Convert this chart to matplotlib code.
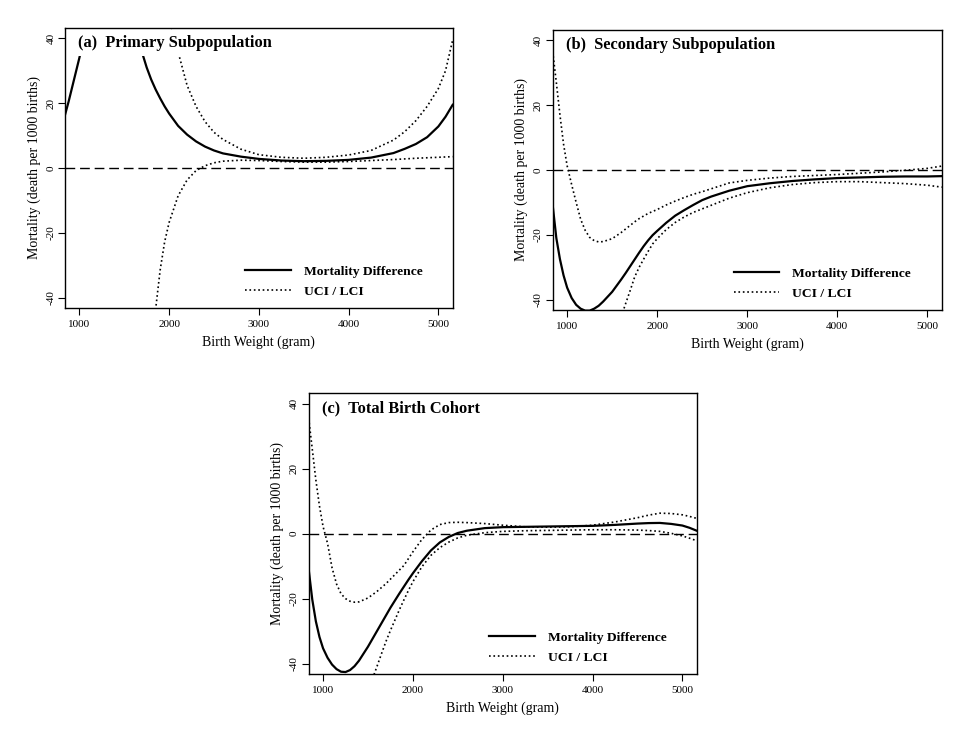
import numpy as np
import matplotlib
matplotlib.use("Agg")
import matplotlib.pyplot as plt
from matplotlib.lines import Line2D

plt.rcParams['font.family'] = ['Liberation Serif', 'DejaVu Serif']
plt.rcParams['axes.unicode_minus'] = False

nan = np.nan

weight = [840, 880, 920, 960, 1000, 1050, 1100, 1150, 1200, 1250,
          1300, 1350, 1400, 1500, 1600, 1650, 1700, 1750, 1800, 1850,
          1900, 1950, 2000, 2100, 2200, 2300, 2400, 2500, 2600, 2800,
          3000, 3250, 3500, 3750, 4000, 4250, 4500, 4625, 4750, 4875,
          5000, 5080, 5160]

# (a) primary subpopulation -- nan where the curve runs off the chart
a_diff = [16.4, 20.5, 25.0, 29.5, 34.0, 40.0, nan, nan, nan, nan,
          nan, nan, nan, nan, nan, 42.0, 35.5, 31.0, 27.3, 24.2,
          21.5, 19.0, 16.8, 13.0, 10.3, 8.2, 6.6, 5.4, 4.5, 3.5,
          2.8, 2.3, 2.1, 2.2, 2.5, 3.2, 4.6, 5.9, 7.4, 9.5,
          12.8, 15.8, 19.5]
a_uci = [nan, nan, nan, nan, nan, nan, nan, nan, nan, nan,
         nan, nan, nan, nan, nan, nan, nan, nan, nan, nan,
         nan, nan, 46.0, 35.8, 25.5, 19.0, 14.3, 11.0, 8.8, 5.8,
         4.1, 3.3, 3.0, 3.3, 4.0, 5.4, 8.6, 11.2, 14.6, 19.0,
         24.5, 30.0, 39.5]
a_lci = [nan, nan, nan, nan, nan, nan, nan, nan, nan, nan,
         nan, nan, nan, nan, nan, nan, nan, nan, -56.0, -43.5,
         -31.5, -22.8, -16.8, -8.6, -3.7, -0.8, 0.7, 1.6, 2.1, 2.4,
         2.3, 2.0, 1.8, 1.8, 2.0, 2.3, 2.6, 2.8, 3.0, 3.15,
         3.3, 3.4, 3.5]

# (b) secondary subpopulation
b_diff = [-11.0, -21.0, -27.5, -32.5, -36.3, -39.5, -41.6, -42.8, -43.4, -43.4,
          -42.8, -41.9, -40.6, -37.6, -33.8, -31.8, -29.7, -27.6, -25.5, -23.5,
          -21.7, -20.1, -18.8, -16.3, -14.1, -12.4, -10.8, -9.3, -8.2, -6.4,
          -5.0, -4.1, -3.4, -2.9, -2.5, -2.3, -2.1, -2.05, -2.0, -2.0,
          -2.0, -1.95, -1.9]
b_uci = [36.5, 27.0, 17.0, 8.0, 1.3, -4.5, -10.0, -15.2, -18.6, -20.8,
         -21.8, -22.2, -22.1, -21.2, -19.3, -18.2, -17.1, -16.0, -15.0, -14.2,
         -13.4, -12.8, -12.2, -10.8, -9.6, -8.5, -7.5, -6.7, -5.8, -4.0,
         -3.2, -2.5, -2.0, -1.7, -1.4, -1.0, -0.6, -0.35, -0.1, 0.2,
         0.5, 0.85, 1.2]
b_lci = [nan, nan, nan, nan, nan, nan, nan, nan, nan, nan,
         nan, nan, nan, nan, -45.3, -41.2, -37.2, -33.0, -30.0, -27.5,
         -25.1, -22.8, -21.2, -18.4, -16.2, -14.5, -13.1, -12.0, -10.9, -8.7,
         -7.0, -5.5, -4.5, -3.9, -3.6, -3.6, -3.9, -4.05, -4.2, -4.45,
         -4.7, -5.0, -5.3]

# (c) total birth cohort
c_diff = [-11.0, -20.3, -27.0, -31.8, -35.3, -38.2, -40.3, -41.7, -42.5, -42.6,
          -42.0, -40.8, -39.1, -34.8, -30.0, -27.6, -25.2, -22.8, -20.6, -18.4,
          -16.3, -14.2, -12.2, -8.5, -5.2, -2.7, -1.0, 0.2, 0.9, 1.7,
          2.0, 2.1, 2.2, 2.3, 2.4, 2.7, 3.1, 3.25, 3.3, 3.0,
          2.5, 1.8, 0.9]
c_uci = [35.5, 26.0, 16.5, 8.5, 2.2, -3.0, -10.5, -15.5, -18.5, -20.0,
         -20.8, -21.1, -21.0, -19.8, -17.8, -16.6, -15.4, -14.0, -12.6, -11.2,
         -9.8, -7.7, -5.6, -1.8, 1.1, 2.8, 3.4, 3.5, 3.4, 3.1,
         2.6, 2.1, 2.0, 2.1, 2.6, 3.6, 4.9, 5.7, 6.3, 6.2,
         5.8, 5.3, 4.7]
c_lci = [nan, nan, nan, nan, nan, nan, nan, nan, nan, nan,
         nan, nan, nan, -48.5, -40.9, -37.0, -33.2, -29.8, -26.6, -23.4,
         -20.4, -17.5, -14.8, -10.2, -6.7, -4.3, -2.6, -1.3, -0.5, 0.3,
         0.7, 0.9, 1.0, 1.1, 1.2, 1.2, 1.1, 0.95, 0.7, 0.1,
         -0.7, -1.4, -2.2]

titles = ["(a)  Primary Subpopulation", "(b)  Secondary Subpopulation", "(c)  Total Birth Cohort"]
legend_labels = ["Mortality Difference", "UCI / LCI"]
xticks = [1000, 2000, 3000, 4000, 5000]
yticks = [-40, -20, 0, 20, 40]

panels = [(a_diff, a_uci, a_lci), (b_diff, b_uci, b_lci), (c_diff, c_uci, c_lci)]
positions = [[0.0667, 0.5838, 0.3976, 0.3784],
             [0.5669, 0.5811, 0.3990, 0.3784],
             [0.3166, 0.0892, 0.3980, 0.3793]]

fig = plt.figure(figsize=(9.75, 7.4), dpi=100)

for (diff, uci, lci), pos, title in zip(panels, positions, titles):
    ax = fig.add_axes(pos)
    ax.axhline(0, color='black', lw=1.0, dashes=(7, 3.5), zorder=1)
    ax.plot(weight, diff, color='black', lw=1.6, zorder=2)
    ax.plot(weight, uci, color='black', lw=1.2, ls=':', zorder=2)
    ax.plot(weight, lci, color='black', lw=1.2, ls=':', zorder=2)

    ax.set_xlim(840, 5160)
    ax.set_ylim(-43.2, 43.2)
    ax.set_xticks(xticks)
    ax.set_yticks(yticks)
    ax.tick_params(direction='out', length=5, width=0.8, labelsize=8, color='black')
    ax.tick_params(axis='x', pad=4)
    ax.tick_params(axis='y', pad=2)
    plt.setp(ax.get_yticklabels(), rotation=90, va='center')
    for sp in ax.spines.values():
        sp.set_linewidth(1.0)

    ax.set_xlabel("Birth Weight (gram)", fontsize=10, labelpad=4)
    ax.set_ylabel("Mortality (death per 1000 births)", fontsize=10, labelpad=4)

    ax.text(0.034, 0.947, title, transform=ax.transAxes, fontsize=11.8, fontweight='bold',
            ha='left', va='center', zorder=5,
            bbox=dict(boxstyle='square,pad=0.3', fc='white', ec='none'))

    handles = [Line2D([], [], color='black', lw=1.6),
               Line2D([], [], color='black', lw=1.2, ls=':')]
    ax.legend(handles, legend_labels, loc='lower left', bbox_to_anchor=(0.465, 0.035),
              frameon=False, prop={'weight': 'bold', 'size': 9.7}, handlelength=3.4,
              handletextpad=0.95, labelspacing=0.6, borderpad=0, borderaxespad=0)

fig.savefig("out.png", dpi=100)
